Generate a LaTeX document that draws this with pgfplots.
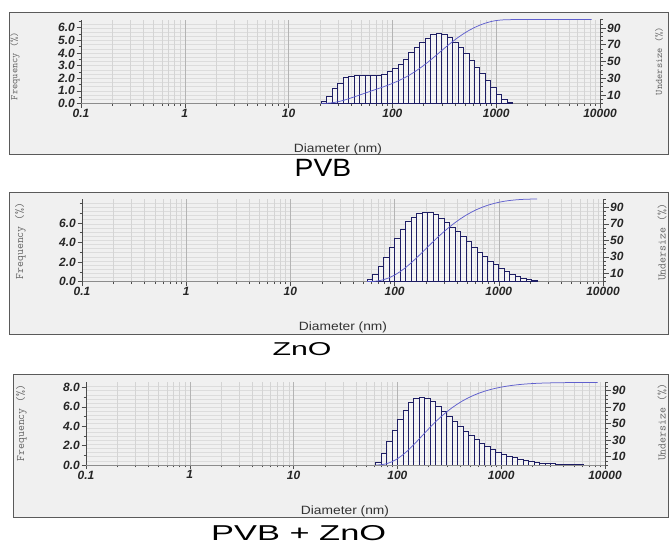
\documentclass[border=0pt]{standalone}
\usepackage{fontspec}
\setmainfont{Liberation Sans}
\usepackage{pgfplots}
\pgfplotsset{compat=1.18}

\definecolor{framebg}{HTML}{F0F0F0}
\definecolor{framedraw}{HTML}{5A5A5A}
\definecolor{gridc}{HTML}{D4D4D4}
\definecolor{gridh}{HTML}{DCDCDC}
\definecolor{gridmaj}{HTML}{B4B4B4}
\definecolor{barc}{RGB}{30,30,100}
\definecolor{cumc}{RGB}{95,95,205}

\newcommand\tickfont{\fontsize{12}{12}\selectfont\bfseries\itshape}

\begin{document}
\begin{tikzpicture}
% frames
\filldraw[fill=framebg, draw=framedraw, line width=1pt] (9pt,391pt) rectangle (668pt,533pt);
\filldraw[fill=framebg, draw=framedraw, line width=1pt] (9pt,211pt) rectangle (668pt,353pt);
\filldraw[fill=framebg, draw=framedraw, line width=1pt] (13pt,28pt) rectangle (668pt,171pt);

% ---------------- PVB ----------------
\begin{axis}[xmode=log, scale only axis, width=519pt, height=83.8pt,
    xmin=0.1, xmax=10000, ymin=0, ymax=100, xtick=\empty,
    ytick={5,10,...,95}, yticklabels={}, ymajorgrids,
    axis line style={draw=none}, major tick length=0pt,
    major grid style={gridh, line width=0.5pt},
    at={(81pt,442.6pt)}, anchor=south west]
\end{axis}
\begin{axis}[xmode=log, scale only axis, width=519pt, height=83.8pt,
    xmin=0.1, xmax=10000, ymin=0, ymax=100,
    xtick={0.1,1,10,100,1000,10000},
    minor xtick={0.2,0.3,0.4,0.5,0.6,0.7,0.8,0.9,2,3,4,5,6,7,8,9,20,30,40,50,60,70,80,90,200,300,400,500,600,700,800,900,2000,3000,4000,5000,6000,7000,8000,9000},
    ytick=\empty, axis line style={draw=none}, major tick length=0pt, minor tick length=0pt,
    xticklabels={}, xmajorgrids, xminorgrids,
    major grid style={gridmaj, line width=0.6pt}, minor grid style={gridc, line width=0.5pt},
    at={(81pt,442.6pt)}, anchor=south west]
\end{axis}
\begin{axis}[xmode=log, scale only axis, width=519pt, height=83.8pt,
    xmin=0.1, xmax=10000, ymin=0, ymax=6.64,
    xtick={0.1,1,10,100,1000,10000}, xticklabels={0.1,1,10,100,1000,10000},
    minor xtick={0.2,0.3,0.4,0.5,0.6,0.7,0.8,0.9,2,3,4,5,6,7,8,9,20,30,40,50,60,70,80,90,200,300,400,500,600,700,800,900,2000,3000,4000,5000,6000,7000,8000,9000},
    ytick={0,1,...,6}, minor ytick={0.5,1.5,...,6.5},
    axis x line=bottom, axis y line=left, axis line style={-},
    x axis line style={draw=black!45}, y axis line style={draw=black!70},
    tick align=outside, major tick length=4.5pt, minor tick length=2.5pt,
    tick style={black!70, line width=0.5pt},
    ticklabel style={font=\tickfont, text=black!85},
    /pgf/number format/assume math mode=true,
    yticklabel style={inner sep=1.5pt, /pgf/number format/fixed,
      /pgf/number format/fixed zerofill, /pgf/number format/precision=1},
    xticklabel style={inner sep=1pt},
    at={(81pt,442.6pt)}, anchor=south west]
\addplot[ybar interval, draw=barc, line width=0.7pt, fill=white, fill opacity=0.45] coordinates {
 (20.691,0.18) (23.357,0.55) (26.367,1.16) (29.764,1.61) (33.598,2.03) (37.927,2.16)
 (42.813,2.22) (48.329,2.24) (54.556,2.24) (61.585,2.22) (69.519,2.19) (78.476,2.30)
 (88.587,2.53) (100,2.80) (112.88,3.09) (127.42,3.48) (143.84,4.01) (162.38,4.41)
 (183.30,4.80) (206.91,5.17) (233.57,5.44) (263.67,5.52) (297.64,5.44) (335.98,5.23)
 (379.27,4.86) (428.13,4.41) (483.29,3.93) (545.56,3.41) (615.85,2.88) (695.19,2.35)
 (784.76,1.82) (885.87,1.29) (1000,0.70) (1128.8,0.30) (1274.2,0.10) (1438.4,0)};
\end{axis}
\begin{axis}[xmode=log, scale only axis, width=519pt, height=83.8pt,
    xmin=0.1, xmax=10000, ymin=0, ymax=100,
    axis y line=right, hide x axis, axis line style={-}, y axis line style={draw=black!70},
    ytick={10,30,50,70,90}, minor ytick={0,5,...,100},
    tick align=outside, major tick length=6pt, minor tick length=3pt,
    tick style={black!70, line width=0.5pt},
    ticklabel style={font=\tickfont, text=black!85},
    /pgf/number format/assume math mode=true, yticklabel style={inner sep=1pt},
    at={(81pt,442.6pt)}, anchor=south west]
\addplot[cumc, line width=0.75pt, mark=none] coordinates {
 (20.691,0) (23.357,0.18) (26.367,0.74) (29.764,1.91) (33.598,3.53) (37.927,5.58)
 (42.813,7.76) (48.329,10.00) (54.556,12.26) (61.585,14.53) (69.519,16.77) (78.476,18.98)
 (88.587,21.30) (100,23.85) (112.88,26.68) (127.42,29.80) (143.84,33.31) (162.38,37.36)
 (183.30,41.81) (206.91,46.66) (233.57,51.87) (263.67,57.36) (297.64,62.94) (335.98,68.43)
 (379.27,73.71) (428.13,78.61) (483.29,83.06) (545.56,87.03) (615.85,90.47) (695.19,93.38)
 (784.76,95.75) (885.87,97.59) (1000,98.89) (1128.8,99.60) (1274.2,99.90) (1438.4,100)
 (8300,100)};
\end{axis}
\node[rotate=90, font=\ttfamily\fontsize{10}{10}\selectfont, text=black!60] at (15pt,480pt) {Frequency (\%)};
\node[rotate=90, font=\ttfamily\fontsize{10}{10}\selectfont, text=black!60] at (659pt,485pt) {Undersize (\%)};
\node[font=\fontsize{12}{12}\selectfont, text=black!80, xscale=1.15] at (338pt,396.5pt) {Diameter (nm)};
\node[font=\fontsize{25}{25}\selectfont, xscale=1.13] at (323pt,378pt) {PVB};

% ---------------- ZnO ----------------
\begin{axis}[xmode=log, scale only axis, width=521pt, height=82.6pt,
    xmin=0.1, xmax=10000, ymin=0, ymax=100, xtick=\empty,
    ytick={5,10,...,95}, yticklabels={}, ymajorgrids,
    axis line style={draw=none}, major tick length=0pt,
    major grid style={gridh, line width=0.5pt},
    at={(82pt,264.4pt)}, anchor=south west]
\end{axis}
\begin{axis}[xmode=log, scale only axis, width=521pt, height=82.6pt,
    xmin=0.1, xmax=10000, ymin=0, ymax=100,
    xtick={0.1,1,10,100,1000,10000},
    minor xtick={0.2,0.3,0.4,0.5,0.6,0.7,0.8,0.9,2,3,4,5,6,7,8,9,20,30,40,50,60,70,80,90,200,300,400,500,600,700,800,900,2000,3000,4000,5000,6000,7000,8000,9000},
    ytick=\empty, axis line style={draw=none}, major tick length=0pt, minor tick length=0pt,
    xticklabels={}, xmajorgrids, xminorgrids,
    major grid style={gridmaj, line width=0.6pt}, minor grid style={gridc, line width=0.5pt},
    at={(82pt,264.4pt)}, anchor=south west]
\end{axis}
\begin{axis}[xmode=log, scale only axis, width=521pt, height=82.6pt,
    xmin=0.1, xmax=10000, ymin=0, ymax=8.45,
    xtick={0.1,1,10,100,1000,10000}, xticklabels={0.1,1,10,100,1000,10000},
    minor xtick={0.2,0.3,0.4,0.5,0.6,0.7,0.8,0.9,2,3,4,5,6,7,8,9,20,30,40,50,60,70,80,90,200,300,400,500,600,700,800,900,2000,3000,4000,5000,6000,7000,8000,9000},
    ytick={0,2,4,6}, minor ytick={1,3,5,7,8},
    axis x line=bottom, axis y line=left, axis line style={-},
    x axis line style={draw=black!45}, y axis line style={draw=black!70},
    tick align=outside, major tick length=4.5pt, minor tick length=2.5pt,
    tick style={black!70, line width=0.5pt},
    ticklabel style={font=\tickfont, text=black!85},
    /pgf/number format/assume math mode=true,
    yticklabel style={inner sep=1.5pt, /pgf/number format/fixed,
      /pgf/number format/fixed zerofill, /pgf/number format/precision=1},
    xticklabel style={inner sep=1pt},
    at={(82pt,264.4pt)}, anchor=south west]
\addplot[ybar interval, draw=barc, line width=0.7pt, fill=white, fill opacity=0.45] coordinates {
 (54.556,0.2) (61.585,0.7) (69.519,1.6) (78.476,2.5) (88.587,3.55) (100,4.45)
 (112.88,5.35) (127.42,6.15) (143.84,6.6) (162.38,6.98) (183.30,7.1) (206.91,7.05)
 (233.57,6.85) (263.67,6.5) (297.64,6.08) (335.98,5.6) (379.27,5.14) (428.13,4.6)
 (483.29,4.08) (545.56,3.55) (615.85,3.03) (695.19,2.55) (784.76,2.1) (885.87,1.75)
 (1000,1.37) (1128.8,1.02) (1274.2,0.76) (1438.4,0.54) (1623.8,0.34) (1833.0,0.2)
 (2069.1,0.1) (2335.7,0)};
\end{axis}
\begin{axis}[xmode=log, scale only axis, width=521pt, height=82.6pt,
    xmin=0.1, xmax=10000, ymin=0, ymax=100,
    axis y line=right, hide x axis, axis line style={-}, y axis line style={draw=black!70},
    ytick={10,30,50,70,90}, minor ytick={0,5,...,100},
    tick align=outside, major tick length=6pt, minor tick length=3pt,
    tick style={black!70, line width=0.5pt},
    ticklabel style={font=\tickfont, text=black!85},
    /pgf/number format/assume math mode=true, yticklabel style={inner sep=1pt},
    at={(82pt,264.4pt)}, anchor=south west]
\addplot[cumc, line width=0.75pt, mark=none] coordinates {
 (54.556,0) (61.585,0.18) (69.519,0.83) (78.476,2.31) (88.587,4.61) (100,7.89)
 (112.88,11.99) (127.42,16.93) (143.84,22.60) (162.38,28.69) (183.30,35.13) (206.91,41.68)
 (233.57,48.19) (263.67,54.51) (297.64,60.50) (335.98,66.11) (379.27,71.28) (428.13,76.02)
 (483.29,80.27) (545.56,84.03) (615.85,87.31) (695.19,90.10) (784.76,92.46) (885.87,94.39)
 (1000,96.01) (1128.8,97.27) (1274.2,98.21) (1438.4,98.91) (1623.8,99.41) (1833.0,99.72)
 (2069.1,99.91) (2335.7,100)};
\end{axis}
\node[rotate=90, font=\ttfamily\fontsize{11.5}{11.5}\selectfont, text=black!60] at (20.5pt,305pt) {Frequency (\%)};
\node[rotate=90, font=\ttfamily\fontsize{11.5}{11.5}\selectfont, text=black!60] at (662pt,303.5pt) {Undersize (\%)};
\node[font=\fontsize{12}{12}\selectfont, text=black!80, xscale=1.15] at (343pt,218.5pt) {Diameter (nm)};
\node[font=\fontsize{18.6}{19}\selectfont, xscale=1.63] at (302pt,197pt) {ZnO};

% ---------------- PVB + ZnO ----------------
\begin{axis}[xmode=log, scale only axis, width=519pt, height=82.5pt,
    xmin=0.1, xmax=10000, ymin=0, ymax=100, xtick=\empty,
    ytick={5,10,...,95}, yticklabels={}, ymajorgrids,
    axis line style={draw=none}, major tick length=0pt,
    major grid style={gridh, line width=0.5pt},
    at={(86pt,81pt)}, anchor=south west]
\end{axis}
\begin{axis}[xmode=log, scale only axis, width=519pt, height=82.5pt,
    xmin=0.1, xmax=10000, ymin=0, ymax=100,
    xtick={0.1,1,10,100,1000,10000},
    minor xtick={0.2,0.3,0.4,0.5,0.6,0.7,0.8,0.9,2,3,4,5,6,7,8,9,20,30,40,50,60,70,80,90,200,300,400,500,600,700,800,900,2000,3000,4000,5000,6000,7000,8000,9000},
    ytick=\empty, axis line style={draw=none}, major tick length=0pt, minor tick length=0pt,
    xticklabels={}, xmajorgrids, xminorgrids,
    major grid style={gridmaj, line width=0.6pt}, minor grid style={gridc, line width=0.5pt},
    at={(86pt,81pt)}, anchor=south west]
\end{axis}
\begin{axis}[xmode=log, scale only axis, width=519pt, height=82.5pt,
    xmin=0.1, xmax=10000, ymin=0, ymax=8.5,
    xtick={0.1,1,10,100,1000,10000}, xticklabels={0.1,1,10,100,1000,10000},
    minor xtick={0.2,0.3,0.4,0.5,0.6,0.7,0.8,0.9,2,3,4,5,6,7,8,9,20,30,40,50,60,70,80,90,200,300,400,500,600,700,800,900,2000,3000,4000,5000,6000,7000,8000,9000},
    ytick={0,2,4,6,8}, minor ytick={1,3,5,7},
    axis x line=bottom, axis y line=left, axis line style={-},
    x axis line style={draw=black!45}, y axis line style={draw=black!70},
    tick align=outside, major tick length=4.5pt, minor tick length=2.5pt,
    tick style={black!70, line width=0.5pt},
    ticklabel style={font=\tickfont, text=black!85},
    /pgf/number format/assume math mode=true,
    yticklabel style={inner sep=1.5pt, /pgf/number format/fixed,
      /pgf/number format/fixed zerofill, /pgf/number format/precision=1},
    xticklabel style={inner sep=1pt},
    at={(86pt,81pt)}, anchor=south west]
\addplot[ybar interval, draw=barc, line width=0.7pt, fill=white, fill opacity=0.45] coordinates {
 (61.585,0.27) (69.519,1.17) (78.476,2.41) (88.587,3.54) (100,4.71) (112.88,5.63)
 (127.42,6.46) (143.84,6.9) (162.38,7.0) (183.30,6.9) (206.91,6.55) (233.57,6.05)
 (263.67,5.55) (297.64,5.0) (335.98,4.45) (379.27,4.0) (428.13,3.47) (483.29,3.02)
 (545.56,2.6) (615.85,2.2) (695.19,1.9) (784.76,1.58) (885.87,1.34) (1000,1.12)
 (1128.8,0.93) (1274.2,0.78) (1438.4,0.62) (1623.8,0.5) (1833.0,0.4) (2069.1,0.3)
 (2335.7,0.22) (2636.7,0.17) (2976.4,0.14) (3359.8,0.1) (3792.7,0.08) (4281.3,0.06)
 (4832.9,0.04) (5455.6,0.03) (6158.5,0)};
\end{axis}
\begin{axis}[xmode=log, scale only axis, width=519pt, height=82.5pt,
    xmin=0.1, xmax=10000, ymin=0, ymax=100,
    axis y line=right, hide x axis, axis line style={-}, y axis line style={draw=black!70},
    ytick={10,30,50,70,90}, minor ytick={0,5,...,100},
    tick align=outside, major tick length=6pt, minor tick length=3pt,
    tick style={black!70, line width=0.5pt},
    ticklabel style={font=\tickfont, text=black!85},
    /pgf/number format/assume math mode=true, yticklabel style={inner sep=1pt},
    at={(86pt,81pt)}, anchor=south west]
\addplot[cumc, line width=0.75pt, mark=none] coordinates {
 (61.585,0) (69.519,0.27) (78.476,1.47) (88.587,3.92) (100,7.53) (112.88,12.32)
 (127.42,18.06) (143.84,24.64) (162.38,31.66) (183.30,38.79) (206.91,45.82) (233.57,52.49)
 (263.67,58.65) (297.64,64.30) (335.98,69.40) (379.27,73.93) (428.13,78.00) (483.29,81.54)
 (545.56,84.61) (615.85,87.26) (695.19,89.50) (784.76,91.44) (885.87,93.04) (1000,94.41)
 (1128.8,95.55) (1274.2,96.50) (1438.4,97.29) (1623.8,97.92) (1833.0,98.43) (2069.1,98.84)
 (2335.7,99.14) (2636.7,99.37) (2976.4,99.54) (3359.8,99.68) (3792.7,99.79) (4281.3,99.87)
 (4832.9,99.93) (5455.6,99.97) (6158.5,100) (8500,100)};
\end{axis}
\node[rotate=90, font=\ttfamily\fontsize{11.5}{11.5}\selectfont, text=black!60] at (21.5pt,123pt) {Frequency (\%)};
\node[rotate=90, font=\ttfamily\fontsize{11.5}{11.5}\selectfont, text=black!60] at (662pt,123.5pt) {Undersize (\%)};
\node[font=\fontsize{12}{12}\selectfont, text=black!80, xscale=1.15] at (345pt,35pt) {Diameter (nm)};
\node[font=\fontsize{21.5}{22}\selectfont, xscale=1.6, inner sep=0pt] at (298.7pt,13pt) {PVB + ZnO};

\pgfresetboundingbox
\useasboundingbox (0pt,0pt) rectangle (669pt,546pt);
\end{tikzpicture}
\end{document}
